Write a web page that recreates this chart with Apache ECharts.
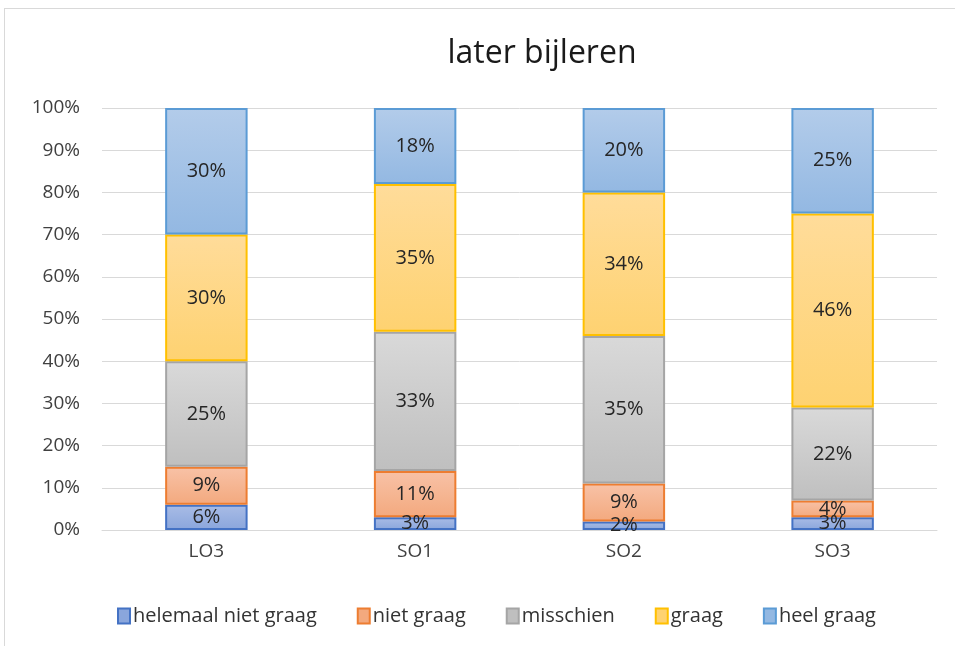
<!DOCTYPE html>
<html><head><meta charset="utf-8">
<script src="https://cdn.jsdelivr.net/npm/echarts@6/dist/echarts.min.js"></script>
<style>
html,body{margin:0;padding:0;background:#fff;}
#frame{position:absolute;left:4px;top:8px;width:960px;height:640px;border-left:1px solid #d9d9d9;border-top:1px solid #d9d9d9;}
#c{position:absolute;left:0;top:0;width:955px;height:646px;}
</style></head>
<body>
<div id="frame"></div>
<div id="c"></div>
<script>
const categories = ['LO3', 'SO1', 'SO2', 'SO3'];
const seriesNames = ['helemaal niet graag', 'niet graag', 'misschien', 'graag', 'heel graag'];
const helemaalNietGraag = [6, 3, 2, 3];
const nietGraag = [9, 11, 9, 4];
const misschien = [25, 33, 35, 22];
const graag = [30, 35, 34, 46];
const heelGraag = [30, 18, 20, 25];
const yTicks = [0, 10, 20, 30, 40, 50, 60, 70, 80, 90, 100];

const values = [helemaalNietGraag, nietGraag, misschien, graag, heelGraag];
const styles = [
  {border:'#4472C4', top:'#A9BCE6', bottom:'#8AA6DC'},
  {border:'#ED7D31', top:'#F8C2A7', bottom:'#F3A97E'},
  {border:'#A5A5A5', top:'#D9D9D9', bottom:'#BFBFBF'},
  {border:'#FFC000', top:'#FFDC9A', bottom:'#FED271'},
  {border:'#5B9BD5', top:'#B3CCEA', bottom:'#93B8E2'}
];
const font = '"Open Sans", "Liberation Sans", sans-serif';

const chart = echarts.init(document.getElementById('c'), null, {renderer:'canvas'});
chart.setOption({
  animation:false,
  backgroundColor:'transparent',
  title:{text:'later bijleren', left:537, top:33, textAlign:'center',
    textStyle:{fontFamily:font, fontSize:32, fontWeight:'normal', color:'#1a1a1a'}},
  legend:{
    top:601, left:112,
    itemWidth:12, itemHeight:15, itemGap:40,
    textStyle:{fontFamily:font, fontSize:20, color:'#333', padding:[0,0,0,-2]},
    data: seriesNames.map((n,i)=>({name:n, icon:'rect',
      itemStyle:{color:styles[i].bottom, borderColor:styles[i].border, borderWidth:2}}))
  },
  grid:{left:102, right:18, top:108, bottom:116},
  xAxis:{type:'category', data:categories,
    axisLine:{lineStyle:{color:'#d9d9d9', width:1}}, axisTick:{show:false},
    axisLabel:{fontFamily:font, fontSize:19, color:'#404040', margin:12}},
  yAxis:{type:'value', min:0, max:100, interval:10,
    axisLine:{show:false}, axisTick:{show:false},
    splitLine:{lineStyle:{color:'#d9d9d9', width:1}},
    axisLabel:{fontFamily:font, fontSize:19, color:'#404040', margin:22,
      formatter:v=> yTicks.includes(v) ? v+'%' : ''}},
  series: seriesNames.map((n,i)=>({
    name:n, type:'bar', stack:'total', barWidth:'39.5%',
    data: values[i],
    itemStyle:{
      color:new echarts.graphic.LinearGradient(0,0,0,1,[{offset:0,color:styles[i].top},{offset:1,color:styles[i].bottom}]),
      borderColor:styles[i].border, borderWidth:2
    },
    label:{show:true, position:'inside', formatter:p=>p.value+'%',
      fontFamily:font, fontSize:20, color:'#262626'}
  }))
});
</script>
</body></html>
